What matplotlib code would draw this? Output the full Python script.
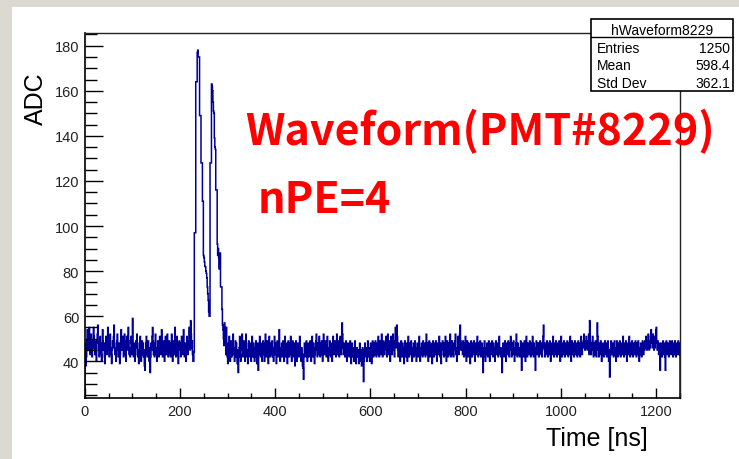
import numpy as np
import matplotlib
matplotlib.use("Agg")
import matplotlib.pyplot as plt
from matplotlib.patches import Rectangle
from matplotlib.ticker import MultipleLocator

W, H = 739, 460


def fx(x):
    return x / W


def fy(y):
    return 1 - y / H


# ADC samples, one per 1 ns bin
baseline_early = [
    48, 43, 38, 42, 49, 54, 46, 45, 51, 55, 48, 43, 46, 52, 49, 42, 45, 48, 55, 51,
    46, 43, 49, 45, 40, 48, 52, 56, 49, 45, 42, 46, 51, 48, 43, 40, 46, 54, 49, 45,
    48, 42, 39, 45, 51, 46, 43, 49, 55, 48, 45, 42, 48, 52, 46, 43, 39, 45, 49, 46,
    51, 56, 48, 43, 46, 40, 45, 49, 52, 46, 42, 48, 45, 39, 43, 49, 54, 48, 45, 51,
    46, 42, 48, 52, 49, 43, 40, 46, 51, 45, 48, 55, 49, 43, 46, 42, 45, 51, 48, 43,
    59, 46, 42, 48, 45, 40, 43, 49, 46, 52, 48, 42, 45, 39, 43, 48, 51, 45, 40, 46,
    49, 43, 48, 42, 45, 38, 36, 43, 48, 51, 46, 42, 45, 49, 43, 40, 46, 35, 42, 48,
    45, 51, 55, 49, 43, 46, 42, 48, 52, 46, 43, 40, 45, 49, 48, 42, 46, 51, 45, 43,
    48, 54, 46, 42, 45, 49, 43, 40, 46, 51, 48, 43, 46, 52, 48, 42, 45, 49, 46, 43,
    42, 48, 52, 45, 40, 46, 49, 43, 48, 55, 46, 42, 45, 51, 48, 43, 39, 46, 49, 45,
    48, 42, 45, 51, 46, 43, 49, 54, 46, 42, 48, 45, 40, 46, 51, 48, 43, 49, 46, 55,
    48, 45, 58, 52, 46, 49, 43, 40,
]

pulse = [
    40, 44, 97, 97, 97, 164, 164, 164, 177, 178, 175, 175, 175, 149, 149, 149,
    128, 128, 128, 111, 111, 87, 86, 84, 82, 82, 80, 79, 77, 73, 70, 67, 62, 60,
    60, 128, 128, 128, 163, 162, 160, 155, 151, 150, 139, 135, 134, 116, 116, 116,
    92, 87, 90, 86, 81, 86, 88, 73, 73, 73, 63, 56, 54, 50, 47,
]

baseline_late = [
    57, 55, 49, 43, 55, 46, 42, 39, 48, 45, 51, 43, 40, 46, 49, 42, 45, 48, 52, 43,
    46, 40, 45, 49, 42, 48, 43, 39, 45, 35, 42, 46, 51, 43, 40, 45, 48, 52, 46, 42,
    45, 49, 43, 40, 46, 52, 48, 42, 45, 39, 43, 49, 46, 42, 48, 45, 40, 46, 51, 43,
    42, 48, 45, 40, 46, 43, 49, 42, 39, 45, 48, 36, 43, 46, 51, 45, 42, 48, 43, 40,
    46, 49, 43, 45, 40, 48, 52, 46, 42, 45, 49, 43, 39, 46, 51, 45, 42, 48, 43, 46,
    49, 42, 45, 40, 46, 51, 43, 48, 45, 39, 43, 49, 46, 42, 48, 54, 45, 40, 46, 43,
    48, 42, 45, 49, 43, 40, 46, 51, 45, 42, 48, 43, 39, 45, 49, 46, 42, 48, 45, 51,
    43, 40, 46, 49, 45, 42, 48, 43, 38, 45, 49, 46, 40, 43, 48, 45, 42, 46, 51, 43,
    45, 40, 46, 43, 38, 37, 32, 43, 48, 45, 42, 46, 49, 43, 40, 45, 48, 42, 46, 43,
    49, 45, 40, 46, 51, 43, 42, 48, 45, 39, 43, 46, 49, 52, 45, 42, 48, 43, 46, 51,
    46, 42, 48, 45, 49, 43, 40, 46, 52, 48, 43, 45, 49, 46, 42, 48, 51, 45, 40, 46,
    43, 49, 45, 42, 48, 46, 40, 45, 51, 48, 43, 46, 49, 45, 42, 48, 52, 46, 43, 49,
    45, 42, 48, 51, 46, 43, 49, 57, 52, 46, 43, 48, 45, 42, 46, 49, 43, 40, 45, 48,
    43, 46, 42, 45, 49, 43, 39, 45, 48, 42, 43, 46, 40, 45, 49, 43, 39, 42, 46, 43,
    42, 45, 39, 43, 48, 42, 40, 45, 38, 42, 46, 43, 31, 40, 45, 48, 42, 43, 46, 40,
    45, 49, 43, 42, 46, 40, 45, 48, 43, 39, 45, 49, 46, 42, 48, 45, 43, 49, 46, 42,
    45, 48, 43, 51, 46, 42, 45, 49, 43, 46, 52, 48, 42, 45, 49, 46, 43, 48, 45, 51,
    46, 42, 48, 52, 45, 43, 49, 46, 40, 45, 51, 48, 43, 46, 52, 49, 45, 42, 48, 55,
    49, 46, 56, 51, 45, 42, 48, 43, 46, 40, 45, 49, 46, 42, 48, 45, 43, 39, 46, 49,
    45, 42, 48, 43, 40, 46, 51, 45, 42, 48, 43, 46, 49, 45, 40, 46, 43, 48, 42, 45,
    49, 43, 46, 40, 45, 48, 43, 42, 46, 51, 45, 40, 46, 43, 48, 45, 42, 49, 46, 43,
    45, 48, 42, 46, 52, 45, 43, 48, 40, 45, 49, 46, 42, 48, 45, 43, 39, 46, 49, 45,
    42, 48, 45, 43, 49, 46, 40, 45, 48, 43, 46, 51, 45, 42, 48, 39, 43, 46, 49, 45,
    46, 42, 48, 45, 51, 43, 40, 46, 49, 45, 42, 48, 43, 46, 52, 48, 42, 45, 49, 43,
    46, 42, 48, 45, 49, 52, 43, 46, 40, 45, 51, 48, 43, 46, 52, 56, 49, 45, 48, 46,
    43, 49, 46, 42, 48, 45, 51, 43, 40, 46, 49, 45, 42, 48, 43, 46, 39, 45, 49, 46,
    42, 48, 45, 43, 49, 46, 40, 45, 48, 43, 46, 51, 45, 42, 48, 45, 43, 49, 46, 42,
    45, 48, 43, 35, 42, 46, 49, 45, 40, 46, 43, 48, 45, 42, 46, 49, 43, 40, 45, 48,
    43, 46, 49, 45, 42, 48, 43, 46, 40, 45, 49, 46, 43, 48, 45, 42, 46, 51, 45, 43,
    46, 42, 45, 35, 43, 48, 45, 42, 46, 49, 43, 40, 45, 48, 46, 43, 49, 45, 42, 48,
    45, 51, 46, 42, 48, 43, 46, 49, 45, 40, 46, 43, 48, 52, 45, 42, 48, 43, 46, 45,
    42, 46, 49, 45, 36, 43, 48, 45, 42, 46, 49, 43, 40, 46, 51, 45, 42, 48, 45, 43,
    46, 49, 45, 42, 48, 43, 46, 51, 45, 42, 48, 43, 46, 36, 45, 49, 46, 43, 48, 45,
    42, 48, 45, 49, 46, 43, 48, 42, 46, 51, 56, 48, 45, 42, 48, 43, 46, 49, 45, 42,
    48, 45, 43, 49, 46, 40, 45, 48, 43, 46, 51, 45, 42, 48, 45, 43, 49, 46, 42, 45,
    48, 43, 46, 49, 45, 40, 46, 51, 45, 42, 48, 43, 46, 49, 45, 42, 48, 45, 43, 46,
    49, 45, 42, 48, 43, 46, 51, 45, 40, 46, 49, 43, 48, 45, 42, 46, 49, 45, 43, 48,
    45, 42, 46, 49, 43, 48, 45, 42, 46, 51, 45, 43, 48, 46, 49, 52, 48, 45, 49, 46,
    51, 48, 45, 49, 46, 52, 43, 58, 49, 46, 43, 48, 45, 51, 46, 42, 48, 45, 43, 49,
    46, 42, 48, 57, 51, 45, 42, 48, 43, 46, 49, 45, 40, 46, 43, 48, 45, 42, 46, 49,
    45, 43, 48, 42, 46, 49, 43, 40, 45, 33, 42, 46, 49, 45, 43, 48, 45, 42, 46, 49,
    43, 46, 40, 45, 49, 46, 42, 48, 45, 43, 49, 46, 42, 45, 48, 43, 46, 51, 45, 42,
    48, 45, 43, 49, 46, 40, 45, 48, 43, 46, 51, 45, 42, 48, 45, 43, 49, 46, 42, 45,
    48, 43, 46, 49, 45, 42, 48, 43, 46, 49, 45, 40, 46, 43, 48, 45, 42, 46, 49, 45,
    43, 48, 45, 49, 46, 51, 48, 45, 49, 46, 52, 48, 45, 49, 46, 51, 54, 48, 49, 46,
    52, 48, 45, 51, 46, 49, 54, 55, 48, 45, 49, 46, 43, 48, 45, 36, 43, 48, 45, 42,
    46, 49, 45, 43, 48, 42, 36, 45, 49, 46, 43, 48, 45, 42, 46, 49, 45, 48, 43, 46,
    49, 45, 42, 48, 45, 43, 49, 46, 42, 45, 48, 43, 46, 49, 45, 43, 48,
]

x_ticks = [0, 200, 400, 600, 800, 1000, 1200]
y_ticks = [40, 60, 80, 100, 120, 140, 160, 180]
hist_name = "hWaveform8229"
stat_names = ["Entries", "Mean", "Std Dev"]
stat_values = ["1250", "598.4", "362.1"]
x_label = "Time [ns]"
y_label = "ADC"
title_line = "Waveform(PMT#8229)"
npe_line = "nPE=4"

adc = np.array(baseline_early + pulse + baseline_late, dtype=float)
edges = np.arange(len(adc) + 1, dtype=float)

root_font = "Liberation Sans"
note_font = ["Noto Sans CJK SC", "DejaVu Sans"]
line_color = "#000099"

fig = plt.figure(figsize=(W / 100, H / 100), dpi=100)
fig.patch.set_facecolor("#dcd9d3")
fig.add_artist(Rectangle((fx(12), 0), 1 - fx(12), fy(8), transform=fig.transFigure,
                         facecolor="white", edgecolor="none", zorder=-5))

ax = fig.add_axes([fx(84.8), fy(399), fx(680) - fx(84.8), fy(34.3) - fy(399)])
ax.set_facecolor("white")
ax.stairs(adc, edges, color=line_color, lw=1.1)
ax.set_xlim(0, 1250)
ax.set_ylim(23.7, 185.5)

ax.set_xticks(x_ticks)
ax.set_yticks(y_ticks)
ax.xaxis.set_minor_locator(MultipleLocator(50))
ax.yaxis.set_minor_locator(MultipleLocator(5))
ax.tick_params(which="both", direction="in", top=False, right=False,
               color="black", width=1.0, labelsize=10.5, labelcolor="#222222")
ax.xaxis.set_tick_params(which="major", length=7.5, pad=4)
ax.xaxis.set_tick_params(which="minor", length=3.8)
ax.yaxis.set_tick_params(which="major", length=13, pad=4)
ax.yaxis.set_tick_params(which="minor", length=8.4)
for lab in ax.get_xticklabels() + ax.get_yticklabels():
    lab.set_fontfamily(root_font)

for side in ["left", "bottom"]:
    ax.spines[side].set_linewidth(1.2)
    ax.spines[side].set_color("black")
for side in ["top", "right"]:
    ax.spines[side].set_linewidth(1.0)
    ax.spines[side].set_color("#222222")

# Axis titles
fig.text(fx(36), fy(72), y_label, rotation=90, ha="center", va="top",
         fontsize=18, family=root_font, color="black")
fig.text(fx(648), fy(446), x_label, ha="right", va="baseline",
         fontsize=18, family=root_font, color="black")

# Statistics box
bx0, bx1, by0, by1, bdiv = 591, 733, 20, 92, 38
fig.add_artist(Rectangle((fx(bx0), fy(by1)), fx(bx1) - fx(bx0), fy(by0) - fy(by1),
                         transform=fig.transFigure, facecolor="white",
                         edgecolor="black", lw=1.2, zorder=5))
fig.add_artist(plt.Line2D([fx(bx0), fx(bx1)], [fy(bdiv), fy(bdiv)],
                          transform=fig.transFigure, color="black", lw=1.0, zorder=6))
fig.text(fx((bx0 + bx1) / 2), fy(35), hist_name, ha="center", va="baseline",
         fontsize=10, family=root_font, color="black", zorder=7)
for i, (name, val) in enumerate(zip(stat_names, stat_values)):
    base = 53 + i * 17.5
    fig.text(fx(597), fy(base), name, ha="left", va="baseline",
             fontsize=10, family=root_font, color="black", zorder=7)
    fig.text(fx(730), fy(base), val, ha="right", va="baseline",
             fontsize=10, family=root_font, color="black", zorder=7)

# Annotations
fig.text(fx(245), fy(145), title_line, ha="left", va="baseline", color="red",
         fontsize=31, fontweight="bold", family=note_font, zorder=8)
fig.text(fx(258), fy(213), npe_line, ha="left", va="baseline", color="red",
         fontsize=31, fontweight="bold", family=note_font, zorder=8)

fig.savefig("out.png", dpi=100)
